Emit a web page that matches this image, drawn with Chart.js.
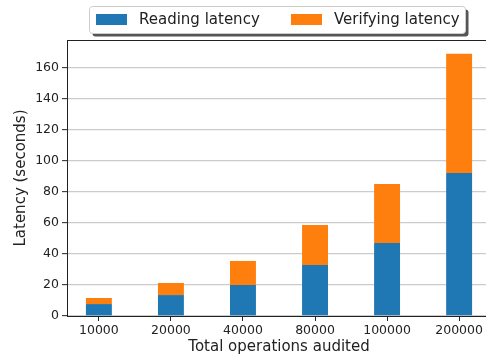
<!DOCTYPE html>
<html>
<head>
<meta charset="utf-8">
<script src="https://cdn.jsdelivr.net/npm/chart.js@4/dist/chart.umd.min.js"></script>
<style>
  html, body { margin: 0; padding: 0; background: #fff; overflow: hidden; width: 486px; height: 356px; }
  canvas { display: block; }
</style>
</head>
<body>
<canvas id="latencyChart" width="500" height="356"></canvas>
<script>
// Datos
const operations = ["10000", "20000", "40000", "80000", "100000", "200000"];
const readingLatency = [7.7, 13.5, 20.0, 32.9, 47.1, 92.3];
const verifyingLatency = [3.9, 7.8, 15.5, 25.8, 38.1, 76.8];
const yTicks = [0, 20, 40, 60, 80, 100, 120, 140, 160];

const FONT = '"DejaVu Sans", sans-serif';
const INK = '#222222';

// marco superior del area y leyenda estilo matplotlib
const frameAndLegend = {
  id: 'frameAndLegend',
  afterDraw(chart) {
    const ctx = chart.ctx;
    const area = chart.chartArea;
    ctx.save();
    ctx.strokeStyle = INK;
    ctx.lineWidth = 1;
    ctx.beginPath();
    ctx.moveTo(area.left, area.top + 0.5);
    ctx.lineTo(area.right, area.top + 0.5);
    ctx.stroke();

    // caja de la leyenda
    const bx = 89.5, by = 6.5, bw = 376, bh = 27;
    ctx.fillStyle = '#555555';
    ctx.beginPath();
    ctx.roundRect(bx + 3, by + 3, bw, bh, 3);
    ctx.fill();
    ctx.fillStyle = '#ffffff';
    ctx.strokeStyle = '#cccccc';
    ctx.beginPath();
    ctx.roundRect(bx, by, bw, bh, 3);
    ctx.fill();
    ctx.stroke();

    ctx.font = '15px ' + FONT;
    ctx.textBaseline = 'middle';
    const items = [
      { x: 96, ds: chart.data.datasets[0] },
      { x: 291, ds: chart.data.datasets[1] },
    ];
    items.forEach(it => {
      ctx.fillStyle = it.ds.backgroundColor;
      ctx.fillRect(it.x, 14, 31, 11);
      ctx.fillStyle = INK;
      ctx.fillText(it.ds.label, it.x + 43, 20);
    });
    ctx.restore();
  }
};

new Chart(document.getElementById('latencyChart'), {
  type: 'bar',
  plugins: [frameAndLegend],
  data: {
    datasets: [
      {
        label: 'Reading latency',
        data: readingLatency.map((v, i) => ({ x: i, y: v })),
        backgroundColor: '#1f77b4',
        barPercentage: 0.36,
        categoryPercentage: 1,
      },
      {
        label: 'Verifying latency',
        data: verifyingLatency.map((v, i) => ({ x: i, y: v })),
        backgroundColor: '#ff7f0e',
        barPercentage: 0.36,
        categoryPercentage: 1,
      },
    ],
  },
  options: {
    responsive: false,
    animation: false,
    layout: { padding: { top: 40, right: 9, left: 0, bottom: 0 } },
    plugins: {
      legend: { display: false },
      tooltip: { enabled: false },
    },
    scales: {
      x: {
        type: 'linear',
        stacked: true,
        offset: false,
        min: -0.4425,
        max: 5.4425,
        afterBuildTicks: (scale) => {
          scale.ticks = operations.map((_, i) => ({ value: i }));
        },
        afterFit: (scale) => { scale.height = 40; },
        ticks: {
          callback: (v) => operations[v],
          color: INK,
          font: { family: FONT, size: 12.5 },
          padding: 2,
          maxRotation: 0,
          autoSkip: false,
        },
        grid: {
          offset: false,
          drawOnChartArea: false,
          tickLength: 5,
          tickColor: INK,
          tickWidth: 1,
        },
        border: { color: INK, width: 1 },
        title: {
          display: true,
          text: 'Total operations audited',
          color: INK,
          font: { family: FONT, size: 15 },
          padding: { top: 0, bottom: 0 },
        },
      },
      y: {
        stacked: true,
        min: 0,
        max: 178,
        afterBuildTicks: (scale) => {
          scale.ticks = yTicks.map(v => ({ value: v }));
        },
        afterFit: (scale) => { scale.width = 67; },
        ticks: {
          color: INK,
          font: { family: FONT, size: 12.5 },
          padding: 3,
        },
        grid: {
          color: '#cccccc',
          lineWidth: 1.3,
          tickLength: 5,
          tickColor: INK,
          tickWidth: 1,
        },
        border: { color: INK, width: 1 },
        title: {
          display: true,
          text: 'Latency (seconds)',
          color: INK,
          font: { family: FONT, size: 15 },
          padding: { top: 12, bottom: 0 },
        },
      },
    },
  },
});
</script>
</body>
</html>
